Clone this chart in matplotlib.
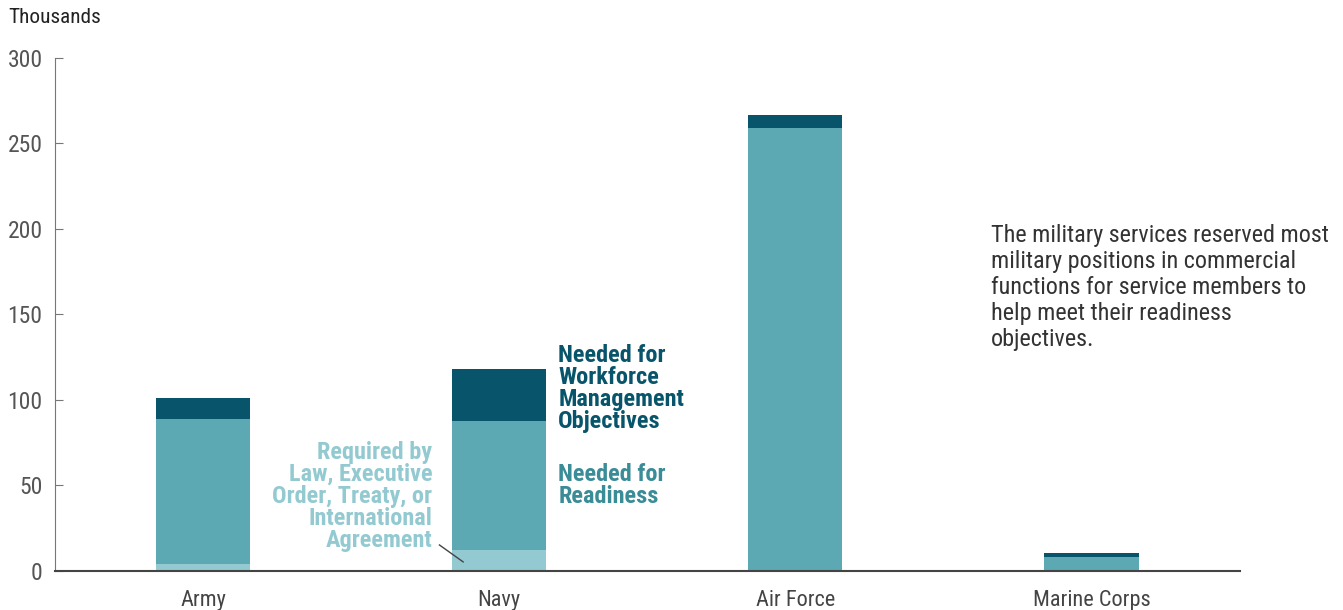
import matplotlib
matplotlib.use("Agg")
from matplotlib import pyplot as plt

# データ (千人)
services = ["Army", "Navy", "Air Force", "Marine Corps"]
required = [4.1, 12.3, 0.0, 0.0]
readiness = [84.6, 75.3, 259.0, 8.2]
workforce = [12.3, 30.4, 7.8, 2.3]

yticks = [0, 50, 100, 150, 200, 250, 300]

c_dark = "#08556b"
c_mid = "#5ca9b3"
c_light = "#93cad1"

plt.rcParams["font.family"] = ["Roboto Condensed", "DejaVu Sans"]

fig = plt.figure(figsize=(13.43, 6.10), dpi=100)
ax = fig.add_axes([0.041, 0.064, 0.882, 0.841])

x = range(len(services))
w = 0.318
bottom2 = [a + b for a, b in zip(required, readiness)]
ax.bar(x, required, w, color=c_light)
ax.bar(x, readiness, w, bottom=required, color=c_mid)
ax.bar(x, workforce, w, bottom=bottom2, color=c_dark)

ax.set_xlim(-0.5, 3.5)
ax.set_ylim(0, 300)
ax.set_yticks(yticks)
ax.set_xticks(list(x))
ax.set_xticklabels(services)
ax.tick_params(axis="x", length=0, labelsize=16, labelcolor="#444444", pad=14)
ax.tick_params(axis="y", direction="in", length=6, color="#777777",
               labelsize=17, labelcolor="#555555", pad=9)
for s in ["top", "right"]:
    ax.spines[s].set_visible(False)
ax.spines["left"].set_color("#777777")
ax.spines["bottom"].set_color("#444444")
ax.spines["bottom"].set_linewidth(1.5)

fig.text(8 / 1343, 1 - 8 / 610, "Thousands", fontsize=15.3, color="#222222", va="top")

# ラベル
ax.text(1.199, 133, "Needed for\nWorkforce\nManagement\nObjectives", fontsize=17.5,
        fontweight="bold", color=c_dark, va="top", ha="left", linespacing=0.95)
ax.text(1.199, 63, "Needed for\nReadiness", fontsize=17.5,
        fontweight="bold", color="#3a8c97", va="top", ha="left", linespacing=0.95)
ax.text(0.774, 76, "Required by\nLaw, Executive\nOrder, Treaty, or\nInternational\nAgreement",
        fontsize=17.5, fontweight="bold", color=c_light, va="top", ha="right",
        multialignment="right", linespacing=0.95)
ax.plot([0.798, 0.878], [15.2, 5.3], color="#444444", lw=1)

ax.text(2.659, 203, "The military services reserved most\nmilitary positions in commercial\n"
        "functions for service members to\nhelp meet their readiness\nobjectives.",
        fontsize=17.4, color="#333333", va="top", ha="left", linespacing=1.17)

fig.savefig("out.png", dpi=100)
